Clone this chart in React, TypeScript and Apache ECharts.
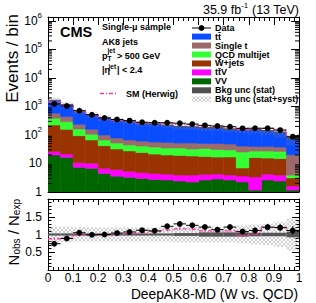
import React, { useEffect, useRef } from "react";
import * as echarts from "echarts";

const FONT = "'Liberation Sans', Arial, Helvetica, sans-serif";

// bin centres of DeepAK8-MD score (bin width 0.05)
const binCenters = [0.025, 0.075, 0.125, 0.175, 0.225, 0.275, 0.325, 0.375, 0.425, 0.475, 0.525, 0.575, 0.625, 0.675, 0.725, 0.775, 0.825, 0.875, 0.925, 0.975];
const halfWidth = 0.025;

// stacked backgrounds (events / bin)
const vv = [19.9, 16.5, 7.4, 6.8, 4.5, 3.6, 3.3, 3.0, 2.75, 2.64, 2.43, 2.24, 2.64, 2.86, 2.64, 2.24, 1.17, 2.64, 2.43, 1.17];
const ttV = [6.1, 5.0, 3.3, 3.4, 2.3, 2.5, 2.0, 1.8, 1.7, 1.6, 1.5, 1.7, 1.5, 1.4, 1.3, 1.4, 2.2, 1.6, 1.5, 0.45];
const wjets = [198, 137, 83.8, 56.6, 35.3, 26.2, 22.3, 19.5, 17, 15.6, 15.2, 14.4, 13.5, 12.6, 13, 3.3, 12.8, 11.3, 11, 1.5];
const qcd = [161, 134.5, 67.5, 39.2, 24.7, 20.1, 17.1, 16.8, 16.4, 15.1, 15.9, 14, 16, 14.1, 12.9, 18.4, 11.3, 11.9, 11.4, 0.8];
const singleTop = [192, 146, 75, 52, 33, 26, 22, 20, 19, 19.6, 17.4, 20, 16.7, 19.3, 18.5, 15.8, 12, 12, 11.5, 16.3];
const ttbar = [1074, 727, 442, 362, 295, 257, 231, 188, 188, 164, 147, 140, 130, 132, 113, 117, 115, 103, 87, 58];

// observed data
const dataCounts = [1222, 1038, 713, 515, 395, 349, 319, 279, 270, 269, 259, 242, 218, 207, 195, 171, 172, 172, 149, 87];

// SM (Herwig) / nominal ratio
const herwigRatio = [0.88, 0.9, 0.98, 0.99, 1.0, 1.0, 1.03, 1.06, 1.08, 1.13, 1.16, 1.15, 1.1, 1.08, 1.1, 0.97, 1.02, 1.2, 1.2, 1.12];

// relative background uncertainties
const statUnc = [0.03, 0.03, 0.03, 0.03, 0.03, 0.03, 0.03, 0.03, 0.03, 0.03, 0.04, 0.04, 0.06, 0.06, 0.06, 0.06, 0.05, 0.05, 0.05, 0.08];
const totalUnc = [0.22, 0.22, 0.2, 0.2, 0.2, 0.2, 0.2, 0.2, 0.2, 0.2, 0.22, 0.22, 0.22, 0.22, 0.22, 0.25, 0.28, 0.3, 0.35, 0.45];

const yMin = 1;
const yMax = 1.38e6;

const layers = [
  { name: "VV", values: vv, color: "#006600" },
  { name: "ttV", values: ttV, color: "#ff00ff" },
  { name: "W+jets", values: wjets, color: "#993300" },
  { name: "QCD", values: qcd, color: "#33ff33" },
  { name: "Single t", values: singleTop, color: "#9c6a6a" },
  { name: "ttbar", values: ttbar, color: "#0a4cff" },
];

const PINK = "#f23a9e";
const STATC = "#555555";

function makeHatch(): any {
  try {
    const cv = document.createElement("canvas");
    cv.width = 4;
    cv.height = 4;
    const ctx = cv.getContext("2d");
    if (!ctx) return "rgba(150,150,150,0.3)";
    ctx.fillStyle = "rgba(130,130,130,0.38)";
    for (let i = 0; i < 4; i++) {
      ctx.fillRect(i, i, 1, 1);
      ctx.fillRect(3 - i, i, 1, 1);
    }
    return { image: cv.toDataURL(), repeat: "repeat" };
  } catch (e) {
    return "rgba(150,150,150,0.3)";
  }
}

const rectRender = (fill: any, stroke = true) => (params: any, api: any) => {
  const a = api.coord([api.value(0), api.value(3)]);
  const b = api.coord([api.value(1), api.value(2)]);
  return {
    type: "rect",
    shape: { x: a[0], y: a[1], width: b[0] - a[0], height: b[1] - a[1] },
    style: stroke ? { fill, stroke: fill, lineWidth: 0.6 } : { fill },
  };
};

const pointRender = (params: any, api: any) => {
  const xc = api.value(0);
  const y = api.value(1);
  const err = api.value(2);
  const c = api.coord([xc, y]);
  const l = api.coord([xc - halfWidth, y]);
  const r = api.coord([xc + halfWidth, y]);
  const t = api.coord([xc, y + err]);
  const b = api.coord([xc, Math.max(y - err, 1e-6)]);
  return {
    type: "group",
    children: [
      { type: "line", shape: { x1: l[0], y1: l[1], x2: r[0], y2: r[1] }, style: { stroke: "#000", lineWidth: 1 } },
      { type: "line", shape: { x1: t[0], y1: t[1], x2: b[0], y2: b[1] }, style: { stroke: "#000", lineWidth: 1 } },
      { type: "circle", shape: { cx: c[0], cy: c[1], r: 2.9 }, style: { fill: "#000" } },
    ],
  };
};

const axisBase = (gridIndex: number, position: string, tickLen: number, minorLen: number) => ({
  gridIndex,
  position,
  axisLine: { show: true, onZero: false, lineStyle: { color: "#000", width: 1 } },
  axisTick: { show: true, inside: true, length: tickLen, lineStyle: { color: "#000", width: 1 } },
  minorTick: { show: true, splitNumber: 5, length: minorLen, lineStyle: { color: "#000", width: 1 } },
  splitLine: { show: false },
  minorSplitLine: { show: false },
  axisLabel: { show: false },
});

export default function App() {
  const ref = useRef<HTMLDivElement>(null);

  useEffect(() => {
    document.body.style.margin = "0";
    const chart = echarts.init(ref.current!, undefined, { renderer: "svg" });
    const HATCH = makeHatch();

    const total = binCenters.map((_, i) => layers.reduce((s, l) => s + l.values[i], 0));
    const series: any[] = [];

    // stacked histograms
    const base = binCenters.map(() => 0);
    layers.forEach((layer, k) => {
      const data = binCenters.map((c, i) => {
        const lo = base[i] > 0 ? base[i] : yMin;
        const hi = base[i] + layer.values[i];
        return [c - halfWidth, c + halfWidth, lo, hi];
      });
      binCenters.forEach((_, i) => (base[i] += layer.values[i]));
      series.push({
        type: "custom",
        name: layer.name,
        coordinateSystem: "cartesian2d",
        xAxisIndex: 0,
        yAxisIndex: 0,
        clip: true,
        silent: true,
        z: 2 + k * 0.01,
        renderItem: rectRender(layer.color),
        data,
      });
    });

    // uncertainty bands (upper)
    series.push({
      type: "custom",
      coordinateSystem: "cartesian2d",
      xAxisIndex: 0,
      yAxisIndex: 0,
      clip: true,
      silent: true,
      z: 3,
      renderItem: rectRender(HATCH, false),
      data: binCenters.map((c, i) => [c - halfWidth, c + halfWidth, total[i] * (1 - totalUnc[i]), total[i] * (1 + totalUnc[i])]),
    });
    series.push({
      type: "custom",
      coordinateSystem: "cartesian2d",
      xAxisIndex: 0,
      yAxisIndex: 0,
      clip: true,
      silent: true,
      z: 3.1,
      renderItem: rectRender(STATC, false),
      data: binCenters.map((c, i) => [c - halfWidth, c + halfWidth, total[i] * (1 - statUnc[i]), total[i] * (1 + statUnc[i])]),
    });

    // SM (Herwig) upper
    const herwigUpper = binCenters.map((c, i) => [c - halfWidth, total[i] * herwigRatio[i]]);
    herwigUpper.push([1, total[total.length - 1] * herwigRatio[herwigRatio.length - 1]]);
    series.push({
      type: "line",
      xAxisIndex: 0,
      yAxisIndex: 0,
      step: "end",
      symbol: "none",
      silent: true,
      z: 4,
      lineStyle: { color: PINK, width: 1.3, type: [4, 2, 1, 2] },
      data: herwigUpper,
    });

    // log minor ticks
    const minorVals: number[][] = [];
    for (let d = 0; d < 7; d++) {
      for (let m = 2; m <= 9; m++) {
        const v = m * Math.pow(10, d);
        if (v < yMax) minorVals.push([0, v]);
      }
    }
    series.push({
      type: "custom",
      coordinateSystem: "cartesian2d",
      xAxisIndex: 0,
      yAxisIndex: 0,
      silent: true,
      z: 6,
      renderItem: (params: any, api: any) => {
        const v = api.value(1);
        const L = api.coord([0, v]);
        const R = api.coord([1, v]);
        return {
          type: "group",
          children: [
            { type: "line", shape: { x1: L[0], y1: L[1], x2: L[0] + 4, y2: L[1] }, style: { stroke: "#000", lineWidth: 1 } },
            { type: "line", shape: { x1: R[0], y1: R[1], x2: R[0] - 4, y2: R[1] }, style: { stroke: "#000", lineWidth: 1 } },
          ],
        };
      },
      data: minorVals,
    });

    // data upper
    series.push({
      type: "custom",
      coordinateSystem: "cartesian2d",
      xAxisIndex: 0,
      yAxisIndex: 0,
      silent: true,
      z: 5,
      renderItem: pointRender,
      data: binCenters.map((c, i) => [c, dataCounts[i], Math.sqrt(dataCounts[i])]),
    });

    // ratio panel bands
    series.push({
      type: "custom",
      coordinateSystem: "cartesian2d",
      xAxisIndex: 2,
      yAxisIndex: 2,
      clip: true,
      silent: true,
      z: 2,
      renderItem: rectRender(HATCH, false),
      data: binCenters.map((c, i) => [c - halfWidth, c + halfWidth, 1 - totalUnc[i], 1 + totalUnc[i]]),
    });
    series.push({
      type: "custom",
      coordinateSystem: "cartesian2d",
      xAxisIndex: 2,
      yAxisIndex: 2,
      clip: true,
      silent: true,
      z: 2.1,
      renderItem: rectRender(STATC, false),
      data: binCenters.map((c, i) => [c - halfWidth, c + halfWidth, 1 - statUnc[i], 1 + statUnc[i]]),
    });

    // herwig ratio
    const herwigRatioStep = binCenters.map((c, i) => [c - halfWidth, herwigRatio[i]]);
    herwigRatioStep.push([1, herwigRatio[herwigRatio.length - 1]]);
    series.push({
      type: "line",
      xAxisIndex: 2,
      yAxisIndex: 2,
      step: "end",
      symbol: "none",
      silent: true,
      z: 3,
      lineStyle: { color: PINK, width: 1.3, type: [4, 2, 1, 2] },
      data: herwigRatioStep,
    });
    series.push({
      type: "custom",
      coordinateSystem: "cartesian2d",
      xAxisIndex: 2,
      yAxisIndex: 2,
      silent: true,
      z: 3,
      renderItem: (params: any, api: any) => {
        const t = api.coord([api.value(0), api.value(1) + 0.04]);
        const b = api.coord([api.value(0), api.value(1) - 0.04]);
        return { type: "line", shape: { x1: t[0], y1: t[1], x2: b[0], y2: b[1] }, style: { stroke: PINK, lineWidth: 1 } };
      },
      data: binCenters.map((c, i) => [c, herwigRatio[i]]),
    });

    // data ratio
    series.push({
      type: "custom",
      coordinateSystem: "cartesian2d",
      xAxisIndex: 2,
      yAxisIndex: 2,
      silent: true,
      z: 5,
      renderItem: pointRender,
      data: binCenters.map((c, i) => [c, dataCounts[i] / total[i], Math.sqrt(dataCounts[i]) / total[i]]),
    });

    const text = (x: number, y: number, t: string, size: number, extra: any = {}, el: any = {}) => ({
      type: "text",
      x,
      y,
      silent: true,
      ...el,
      style: { text: t, fontSize: size, fontFamily: FONT, fill: "#000", align: "left", verticalAlign: "middle", ...extra },
    });

    const legendRows = [
      { label: "t\u0074\u0304", fill: "#0a4cff" },
      { label: "Single t", fill: "#9c6a6a" },
      { label: "QCD multijet", fill: "#33ff33" },
      { label: "W+jets", fill: "#993300" },
      { label: "t\u0074\u0304V", fill: "#ff00ff" },
      { label: "VV", fill: "#006600" },
      { label: "Bkg unc (stat)", fill: "#505050" },
      { label: "Bkg unc (stat+syst)", fill: HATCH },
    ];
    const legendEls: any[] = [];
    legendEls.push({ type: "line", silent: true, shape: { x1: 192, y1: 28, x2: 211, y2: 28 }, style: { stroke: "#000", lineWidth: 1 } });
    legendEls.push({ type: "circle", silent: true, shape: { cx: 201.5, cy: 28, r: 2.9 }, style: { fill: "#000" } });
    legendEls.push(text(215, 28, "Data", 9, { fontWeight: "bold" }));
    legendRows.forEach((row, i) => {
      const y = 36.6 + i * 8.95;
      legendEls.push({ type: "rect", silent: true, shape: { x: 192, y: y - 3, width: 19, height: 6 }, style: { fill: row.fill } });
      legendEls.push(text(215, y, row.label, 9, { fontWeight: "bold" }));
    });

    const option: any = {
      animation: false,
      backgroundColor: "#fff",
      grid: [
        { left: 48, top: 17, width: 251, height: 175 },
        { left: 48, top: 199, width: 251, height: 71 },
      ],
      xAxis: [
        { type: "value", min: 0, max: 1, interval: 0.1, ...axisBase(0, "bottom", 8, 4) },
        { type: "value", min: 0, max: 1, interval: 0.1, ...axisBase(0, "top", 8, 4) },
        {
          type: "value",
          min: 0,
          max: 1,
          interval: 0.1,
          ...axisBase(1, "bottom", 6, 3),
          axisLabel: {
            show: true,
            margin: 2,
            fontSize: 12,
            fontFamily: FONT,
            color: "#000",
            formatter: (v: number) => (v === 0 ? "0" : v === 1 ? "1" : v.toFixed(1)),
          },
        },
        { type: "value", min: 0, max: 1, interval: 0.1, ...axisBase(1, "top", 6, 3) },
      ],
      yAxis: [
        {
          type: "log",
          logBase: 10,
          min: yMin,
          max: yMax,
          ...axisBase(0, "left", 8, 4),
          minorTick: { show: false },
          axisLabel: {
            show: true,
            margin: 6,
            showMaxLabel: false,
            color: "#000",
            fontFamily: FONT,
            fontSize: 12,
            formatter: (v: number) => {
              const e = Math.round(Math.log10(v));
              if (e === 0) return "1";
              if (e === 1) return "10";
              return `{b|10}{s|${e}}`;
            },
            rich: {
              b: { fontSize: 12, fontFamily: FONT, color: "#000", lineHeight: 18 },
              s: { fontSize: 8, fontFamily: FONT, color: "#000", lineHeight: 9, verticalAlign: "top" },
            },
          },
        },
        { type: "log", logBase: 10, min: yMin, max: yMax, ...axisBase(0, "right", 8, 4), minorTick: { show: false } },
        {
          type: "value",
          min: 0,
          max: 2,
          interval: 0.5,
          ...axisBase(1, "left", 7, 3.5),
          axisLabel: {
            show: true,
            margin: 6,
            fontSize: 12,
            fontFamily: FONT,
            color: "#000",
            formatter: (v: number) => (v === 0 || v === 2 ? "" : String(v)),
          },
        },
        { type: "value", min: 0, max: 2, interval: 0.5, ...axisBase(1, "right", 7, 3.5) },
      ],
      series,
      graphic: [
        text(12, 14, "Events / bin", 17, { align: "right" }, { rotation: Math.PI / 2 }),
        {
          type: "text",
          x: 13,
          y: 199,
          rotation: Math.PI / 2,
          silent: true,
          style: {
            text: "{n|N}{sub|obs}{n| / N}{sub|exp}",
            align: "right",
            verticalAlign: "middle",
            fontFamily: FONT,
            fill: "#000",
            rich: {
              n: { fontSize: 15, fontFamily: FONT, lineHeight: 17, fill: "#000" },
              sub: { fontSize: 10, fontFamily: FONT, lineHeight: 9, verticalAlign: "bottom", fill: "#000" },
            },
          },
        },
        text(298, 294.5, "DeepAK8-MD (W vs. QCD)", 13.8, { align: "right" }),
        {
          type: "text",
          x: 299,
          y: 10,
          silent: true,
          style: {
            text: "{n|35.9 fb}{s|-1}{n| (13 TeV)}",
            align: "right",
            verticalAlign: "middle",
            fontFamily: FONT,
            fill: "#000",
            rich: {
              n: { fontSize: 12.5, fontFamily: FONT, lineHeight: 18, fill: "#000" },
              s: { fontSize: 8, fontFamily: FONT, lineHeight: 9, verticalAlign: "top", fill: "#000" },
            },
          },
        },
        text(60, 32, "CMS", 14.5, { fontWeight: "bold" }),
        text(102, 27, "Single-\u03bc sample", 9, { fontWeight: "bold" }),
        text(102, 41.5, "AK8 jets", 9, { fontWeight: "bold" }),
        text(102, 55.5, "p", 9, { fontWeight: "bold" }),
        text(107.5, 58.5, "T", 6.5, { fontWeight: "bold" }),
        text(107.5, 50, "jet", 6.5, { fontWeight: "bold" }),
        text(117, 55.5, "> 500 GeV", 9, { fontWeight: "bold" }),
        text(102, 70, "|\u03b7", 9, { fontWeight: "bold" }),
        text(108.5, 66, "jet", 6.5, { fontWeight: "bold" }),
        text(117, 70, "| < 2.4", 9, { fontWeight: "bold" }),
        { type: "line", silent: true, shape: { x1: 100, y1: 93.5, x2: 118, y2: 93.5 }, style: { stroke: PINK, lineWidth: 1.3, lineDash: [4, 2, 1, 2] } },
        text(126, 93.5, "SM (Herwig)", 9, { fontWeight: "bold" }),
        ...legendEls,
      ],
    };

    chart.setOption(option);
    return () => chart.dispose();
  }, []);

  return <div ref={ref} style={{ position: "fixed", left: 0, top: 0, width: 316, height: 303 }} />;
}
